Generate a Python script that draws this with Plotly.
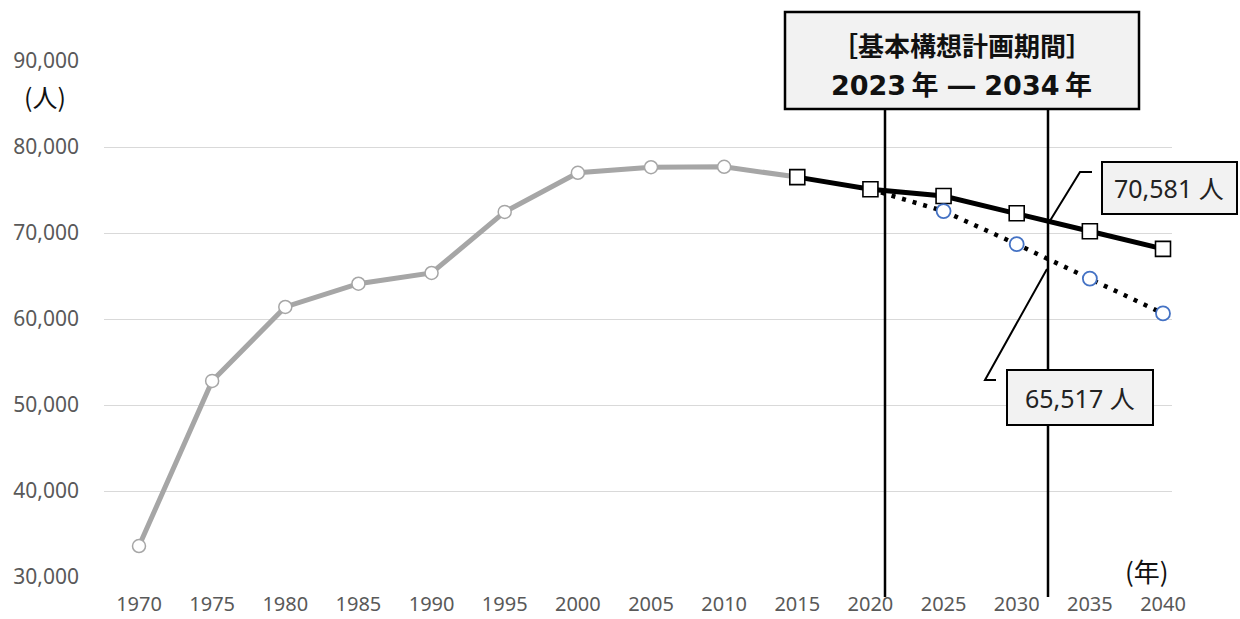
import plotly.graph_objects as go

# ---- data ----
years_actual = [1970, 1975, 1980, 1985, 1990, 1995, 2000, 2005, 2010, 2015]
pop_actual = [33600, 52800, 61400, 64100, 65350, 72450, 77000, 77650, 77700, 76500]

years_plan = [2015, 2020, 2025, 2030, 2035, 2040]
pop_plan = [76500, 75080, 74300, 72300, 70200, 68150]

years_ipss = [2020, 2025, 2030, 2035, 2040]
pop_ipss = [75080, 72550, 68700, 64700, 60650]

x_ticks = [1970, 1975, 1980, 1985, 1990, 1995, 2000, 2005, 2010, 2015, 2020, 2025, 2030, 2035, 2040]
y_ticks = [30000, 40000, 50000, 60000, 70000, 80000, 90000]
y_tick_labels = ["30,000", "40,000", "50,000", "60,000", "70,000", "80,000", "90,000"]

period_text_1 = "［基本構想計画期間］"
period_text_2 = "2023\u2009年 ― 2034\u2009年"
label_plan = "70,581 人"
label_ipss = "65,517 人"

# ---- geometry helpers (page pixels -> paper) ----
W, H = 1240, 619
L, R, T, B = 104, 1172, 61, 577


def px(x):
    return (x - L) / (R - L)


def py(y):
    return (B - y) / (B - T)


LATIN = "Noto Sans, Noto Sans CJK JP, sans-serif"
WIDE = "DejaVu Sans, Noto Sans CJK JP, sans-serif"
CJK = "Noto Sans CJK JP, Noto Sans, sans-serif"

fig = go.Figure()

fig.add_trace(go.Scatter(
    x=years_actual, y=pop_actual, mode="lines+markers",
    line=dict(color="#A6A6A6", width=5),
    marker=dict(symbol="circle", size=13, color="white",
                line=dict(color="#A6A6A6", width=1.5)),
    hoverinfo="x+y", showlegend=False))

fig.add_trace(go.Scatter(
    x=years_ipss, y=pop_ipss, mode="lines",
    line=dict(color="black", width=4.5, dash="4px,7px"),
    hoverinfo="skip", showlegend=False))

fig.add_trace(go.Scatter(
    x=years_plan, y=pop_plan, mode="lines+markers",
    line=dict(color="black", width=5),
    marker=dict(symbol="square", size=15, color="white",
                line=dict(color="black", width=1.6)),
    hoverinfo="x+y", showlegend=False))

fig.add_trace(go.Scatter(
    x=years_ipss[1:], y=pop_ipss[1:], mode="markers",
    marker=dict(symbol="circle", size=14, color="white",
                line=dict(color="#4472C4", width=1.8)),
    hoverinfo="x+y", showlegend=False))

shapes = []
# vertical period lines
for xv in (885, 1048):
    shapes.append(dict(type="line", xref="paper", yref="paper",
                       x0=px(xv), x1=px(xv), y0=py(109), y1=py(597),
                       line=dict(color="black", width=2.5)))
# period box
shapes.append(dict(type="rect", xref="paper", yref="paper",
                   x0=px(785), x1=px(1139), y0=py(12), y1=py(109),
                   fillcolor="#F2F2F2", line=dict(color="black", width=2.5)))
# label boxes
shapes.append(dict(type="rect", xref="paper", yref="paper",
                   x0=px(1102), x1=px(1237), y0=py(162), y1=py(214),
                   fillcolor="#F2F2F2", line=dict(color="black", width=2)))
shapes.append(dict(type="rect", xref="paper", yref="paper",
                   x0=px(1007), x1=px(1153), y0=py(370), y1=py(425),
                   fillcolor="#F2F2F2", line=dict(color="black", width=2)))
# leader lines
shapes.append(dict(type="path", xref="paper", yref="paper",
                   path=f"M {px(1048)},{py(224)} L {px(1080)},{py(172)} L {px(1092)},{py(172)}",
                   line=dict(color="black", width=2)))
shapes.append(dict(type="path", xref="paper", yref="paper",
                   path=f"M {px(1047)},{py(269)} L {px(985)},{py(380)} L {px(996)},{py(380)}",
                   line=dict(color="black", width=2)))


def note(text, x, y, family, size, color="#111111"):
    return dict(text=text, xref="paper", yref="paper", x=px(x), y=py(y),
                xanchor="center", yanchor="middle", showarrow=False,
                font=dict(family=family, size=size, color=color))


annotations = [
    note(f"<b>{period_text_1}</b>", 962, 45, CJK, 26),
    note(f"<b>{period_text_2}</b>", 961, 86, WIDE, 27),
    note(label_plan, 1169, 188, LATIN, 25, "#222222"),
    note(label_ipss, 1080, 398, LATIN, 25, "#222222"),
    note("(人)", 45, 96, CJK, 25),
    note("(年)", 1147, 570, CJK, 26),
]

ppy = (1163 - 139) / 70.0
fig.update_layout(
    width=W, height=H,
    margin=dict(l=L, r=W - R, t=T, b=H - B, autoexpand=False),
    paper_bgcolor="white", plot_bgcolor="white",
    showlegend=False,
    shapes=shapes, annotations=annotations,
    xaxis=dict(range=[1970 - (139 - L) / ppy, 2040 + (R - 1163) / ppy],
               tickmode="array", tickvals=x_ticks, automargin=False,
               showgrid=False, zeroline=False, showline=False,
               ticks="", ticklabelstandoff=13,
               tickfont=dict(family=LATIN, size=20, color="#595959")),
    yaxis=dict(range=[30000, 90000], tickmode="array", automargin=False,
               tickvals=y_ticks, ticktext=y_tick_labels,
               showgrid=True, gridcolor="#D9D9D9", gridwidth=1.3,
               zeroline=False, showline=False, ticks="",
               ticklabelstandoff=24,
               tickfont=dict(family=LATIN, size=21, color="#595959")),
)

fig.write_html("out.html", config={"displayModeBar": False},
               post_script="document.body.style.margin='0';document.body.style.overflow='hidden';")
